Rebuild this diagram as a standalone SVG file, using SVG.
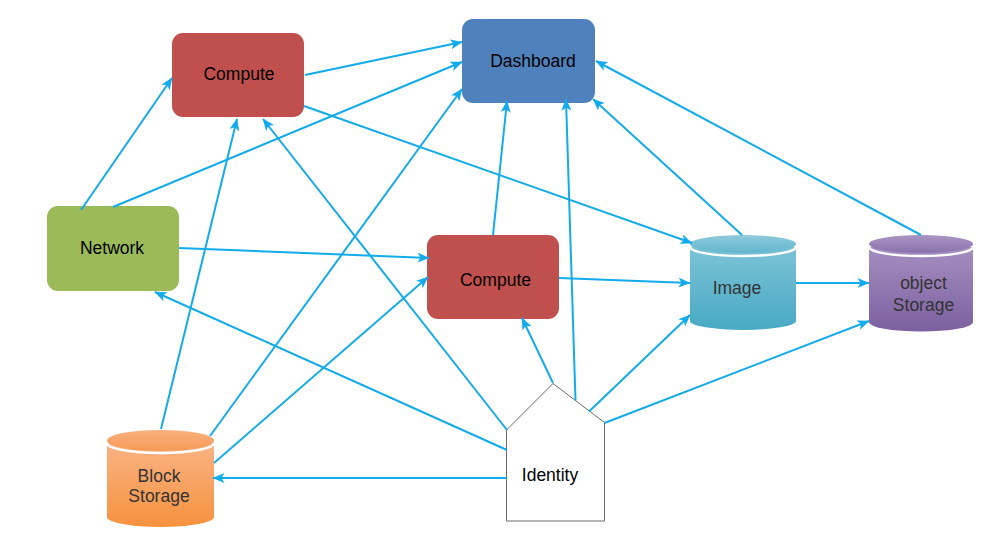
<svg xmlns="http://www.w3.org/2000/svg" width="984" height="538" viewBox="0 0 984 538">
<defs>
<marker id="arr" viewBox="0 0 12 10" refX="11.5" refY="5" markerWidth="12" markerHeight="10" orient="auto" markerUnits="userSpaceOnUse">
<path d="M0,0 L12,5 L0,10 L3,5 Z" fill="#12ABEB"/>
</marker>
<linearGradient id="gImg" x1="0" y1="0" x2="0" y2="1">
<stop offset="0" stop-color="#7CC3D6"/><stop offset="1" stop-color="#48A9C4"/>
</linearGradient>
<linearGradient id="gImgTop" x1="0" y1="0" x2="0" y2="1">
<stop offset="0" stop-color="#8FCADB"/><stop offset="1" stop-color="#62B6CD"/>
</linearGradient>
<linearGradient id="gObj" x1="0" y1="0" x2="0" y2="1">
<stop offset="0" stop-color="#A48FC0"/><stop offset="1" stop-color="#7C60A0"/>
</linearGradient>
<linearGradient id="gObjTop" x1="0" y1="0" x2="0" y2="1">
<stop offset="0" stop-color="#A995C4"/><stop offset="1" stop-color="#8A71AC"/>
</linearGradient>
<linearGradient id="gBlk" x1="0" y1="0" x2="0" y2="1">
<stop offset="0" stop-color="#F9B384"/><stop offset="1" stop-color="#F6923E"/>
</linearGradient>
<linearGradient id="gBlkTop" x1="0" y1="0" x2="0" y2="1">
<stop offset="0" stop-color="#F9B080"/><stop offset="1" stop-color="#F59A56"/>
</linearGradient>
</defs>
<style>
.lbl{font-family:"Liberation Sans",Arial,Helvetica,sans-serif;font-size:17.5px;text-anchor:middle;fill:#000}
.cyl{fill:#333}
.conn line{stroke:#12ABEB;stroke-width:2;fill:none}
.arr{marker-end:url(#arr)}
.gap{fill:none;stroke:#fff;stroke-width:2.5}
</style>
<rect width="984" height="538" fill="#fff"/>

<g id="compute-top">
<rect x="172" y="33" width="132" height="84" rx="11" fill="#C0504D"/>
<text class="lbl" x="239" y="80">Compute</text>
</g>
<g id="dashboard">
<rect x="462" y="19" width="133" height="84" rx="11" fill="#4F81BD"/>
<text class="lbl" x="533" y="67">Dashboard</text>
</g>
<g id="network">
<rect x="47" y="206" width="132" height="85" rx="11" fill="#9BBB59"/>
<text class="lbl" x="112" y="254">Network</text>
</g>
<g id="compute-center">
<rect x="427" y="235" width="132" height="84" rx="11" fill="#C0504D"/>
<text class="lbl" x="495.5" y="286">Compute</text>
</g>
<g id="image">
<path d="M690,247 L690,321 A53,9 0 0 0 796,321 L796,247 Z" fill="url(#gImg)"/>
<path class="gap" d="M690,247 A53,9 0 0 0 796,247"/>
<ellipse cx="743" cy="244" rx="53" ry="9" fill="url(#gImgTop)"/>
<text class="lbl cyl" x="737" y="294">Image</text>
</g>
<g id="object-storage">
<path d="M869,247 L869,322 A52,9.5 0 0 0 973,322 L973,247 Z" fill="url(#gObj)"/>
<path class="gap" d="M869,247 A52,9 0 0 0 973,247"/>
<ellipse cx="921" cy="244" rx="52" ry="9" fill="url(#gObjTop)"/>
<text class="lbl cyl" x="923.5" y="289">object</text>
<text class="lbl cyl" x="923.5" y="311">Storage</text>
</g>
<g id="block-storage">
<path d="M107,443 L107,517 A53.5,10 0 0 0 214,517 L214,443 Z" fill="url(#gBlk)"/>
<path class="gap" d="M107,443 A53.5,10 0 0 0 214,443"/>
<ellipse cx="160.5" cy="440.5" rx="53.5" ry="10.5" fill="url(#gBlkTop)"/>
<text class="lbl cyl" x="159" y="482">Block</text>
<text class="lbl cyl" x="159" y="502">Storage</text>
</g>
<g id="identity">
<polygon points="506.5,430 553,383.5 604.5,422.5 604.5,521 506.5,521" fill="#fff" stroke="#6b6b6b" stroke-width="1"/>
<text class="lbl" x="550" y="481" fill="#222">Identity</text>
</g>

<g id="connectors" class="conn">
<line class="arr" x1="305" y1="75" x2="462" y2="42"/>
<line class="arr" x1="113" y1="207" x2="462" y2="62"/>
<line class="arr" x1="81" y1="210" x2="172" y2="78"/>
<line class="arr" x1="304" y1="106" x2="692" y2="243"/>
<line class="arr" x1="161" y1="429" x2="237" y2="119"/>
<line class="arr" x1="507" y1="430" x2="263" y2="119"/>
<line class="arr" x1="210" y1="436" x2="462" y2="89"/>
<line class="arr" x1="214" y1="463" x2="428" y2="277"/>
<line class="arr" x1="179" y1="248" x2="429" y2="258"/>
<line class="arr" x1="507" y1="450" x2="155" y2="292"/>
<line class="arr" x1="507" y1="478" x2="213" y2="478"/>
<line class="arr" x1="493" y1="235" x2="507" y2="101"/>
<line class="arr" x1="575.5" y1="400.5" x2="566" y2="99"/>
<line class="arr" x1="553" y1="383" x2="522" y2="318"/>
<line class="arr" x1="589" y1="411.5" x2="690" y2="315"/>
<line class="arr" x1="604.5" y1="423" x2="869" y2="321"/>
<line class="arr" x1="559" y1="278" x2="690" y2="283"/>
<line class="arr" x1="796" y1="283" x2="869" y2="283"/>
<line class="arr" x1="742" y1="235" x2="593" y2="99"/>
<line class="arr" x1="921" y1="235" x2="596" y2="61"/>
</g>
</svg>
